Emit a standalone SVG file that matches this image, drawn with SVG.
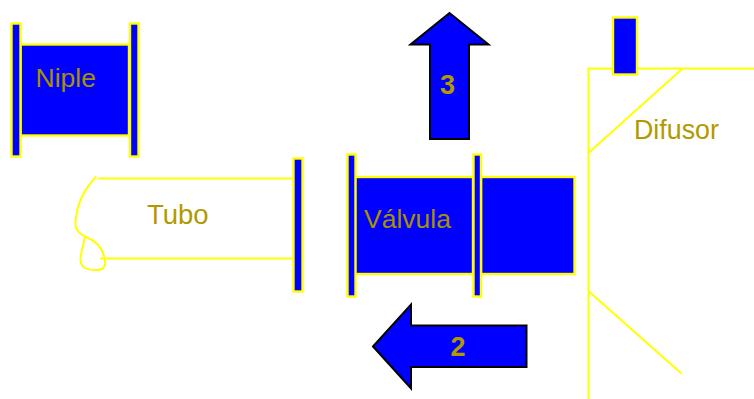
<svg xmlns="http://www.w3.org/2000/svg" width="754" height="399" viewBox="0 0 754 399">
<style>
.part{fill:#0000ff;stroke:#ffff00;stroke-width:2.400}
.line{fill:none;stroke:#ffff00;stroke-width:2}
.arrow{fill:#0000ff;stroke:#000000;stroke-width:2}
.label{font-family:"Liberation Sans",Arial,sans-serif;font-size:26.500px;fill:#b39900}
.dim{fill:#a89000}
.num{font-family:"Liberation Sans",Arial,sans-serif;font-size:27px;font-weight:bold;fill:#b39900;text-anchor:middle}
</style>
<rect width="754" height="399" fill="#ffffff"/>
<g id="niple">
<rect class="part" x="20.500" y="44.500" width="108.500" height="91"/>
<rect class="part" x="11.500" y="23.500" width="9" height="133"/>
<rect class="part" x="130" y="23.500" width="8.500" height="133"/>
<text class="label dim" x="35.500" y="86.500">Niple</text>
</g>
<g id="tubo">
<path class="line" d="M296 178.500H98M96.500 176.500C86 187 77 201 75.500 222C75 232 82 235 88 238C98 242 103 249 105 260C106 268 103 270 96 270C87 270 81 268 80.500 260C80.500 251 84 245 85 237M100 258.500H296"/>
<rect class="part" x="293.500" y="158.500" width="9" height="133"/>
<text class="label" x="147" y="224" style="font-size:27.500px">Tubo</text>
</g>
<g id="valvula">
<rect class="part" x="355" y="177" width="118" height="97"/>
<rect class="part" x="481" y="177" width="93.500" height="97"/>
<rect class="part" x="347.500" y="154.500" width="8" height="142"/>
<rect class="part" x="473.500" y="154.500" width="7.500" height="142"/>
<text class="label dim" x="364" y="228">Válvula</text>
</g>
<g id="difusor">
<path class="line" d="M588.500 399V68.500H754M681.500 69.500L589 152.500M589 291.500L681.500 373.500"/>
<rect class="part" x="613" y="17.500" width="24" height="57"/>
<text class="label" x="634" y="138.500" style="font-size:26.800px">Difusor</text>
</g>
<g id="arrow-3">
<path class="arrow" d="M449.500 13L488.500 44.500H469V139H430V44.500H410.500Z"/>
<text class="num" x="447.500" y="94">3</text>
</g>
<g id="arrow-2">
<path class="arrow" d="M373 346.500L411 304.500V325.500H526.500V367H411V388.500Z"/>
<text class="num" x="458" y="356">2</text>
</g>
<g id="connectors"/>
</svg>
